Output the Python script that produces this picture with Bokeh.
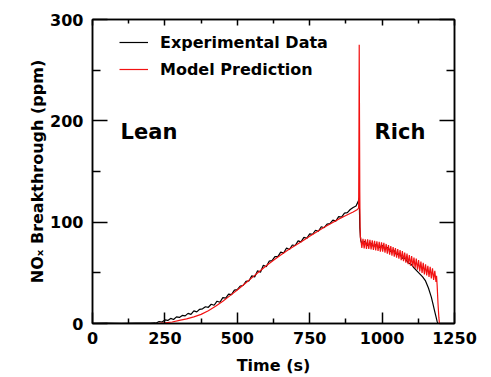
from bokeh.plotting import figure
from bokeh.models import Range1d, LinearAxis, FixedTicker, Label, Legend, LegendItem
from bokeh.embed import file_html
from bokeh.resources import INLINE

# ---------------- data ----------------
exp_time = [0, 50, 100, 150, 200, 215,
            220, 230, 240, 250, 260, 270, 280, 290, 300, 310, 320, 330, 340, 350,
            360, 370, 380, 390, 400, 410, 420, 430, 440, 450, 460, 470, 480, 490,
            500, 510, 520, 530, 540, 550, 560, 570, 580, 590, 600, 610, 620, 630,
            640, 650, 660, 670, 680, 690, 700, 710, 720, 730, 740, 750, 760, 770,
            780, 790, 800, 810, 820, 830, 840, 850, 860, 870, 880, 890, 900, 910,
            920, 921, 923,
            926, 930, 940, 950, 960, 970, 980, 990, 1000, 1010, 1020, 1030, 1040,
            1050, 1060, 1070, 1080, 1090, 1100, 1110, 1120, 1130, 1140, 1150, 1160,
            1170, 1175, 1180, 1185, 1190, 1193, 1200, 1250]
exp_nox = [0.2, 0.4, 0.1, 0.5, 0.3, 0.6,
           0.5, 2.0, 1.5, 3.5, 3.0, 5.0, 4.0, 6.5, 6.0, 8.0, 7.5, 10.0, 9.0, 12.5,
           11.5, 14.0, 14.5, 16.5, 16.0, 19.0, 18.0, 22.0, 21.0, 25.5, 25.0, 29.0, 28.5, 33.0,
           33.5, 37.0, 37.5, 41.5, 42.0, 47.0, 46.0, 52.0, 50.5, 57.5, 56.0, 61.5, 62.0, 66.0,
           66.0, 70.5, 69.5, 74.5, 73.0, 77.5, 77.0, 81.5, 80.5, 85.0, 84.0, 88.5, 88.0, 92.0,
           91.0, 95.5, 94.5, 98.0, 98.5, 102.0, 101.0, 105.5, 105.0, 109.0, 109.5, 112.5, 114.5, 116.0,
           122.0, 124.0, 95.0,
           82.0, 79.0, 81.0, 77.0, 79.5, 76.0, 78.0, 75.0, 77.0, 73.5, 75.0, 71.0, 72.5,
           68.0, 69.0, 64.5, 64.0, 60.0, 58.5, 55.0, 52.0, 49.0, 46.0, 42.0, 35.0,
           26.0, 20.0, 14.0, 8.0, 2.0, 0.0, 0.0, 0.0]

model_time = [0, 100, 200, 230, 250, 275, 300, 325, 350, 375, 400, 425, 450, 475,
              500, 525, 550, 575, 600, 625, 650, 675, 700, 725, 750, 775, 800, 825,
              850, 875, 900, 915, 919, 920, 921, 922, 923, 924, 925,
              926, 930, 934, 938, 942, 946, 950, 954, 958, 962, 966, 970, 974, 978,
              982, 986, 990, 994, 998, 1002, 1006, 1010, 1014, 1018, 1022, 1026, 1030,
              1034, 1038, 1042, 1046, 1050, 1054, 1058, 1062, 1066, 1070, 1074, 1078,
              1082, 1086, 1090, 1094, 1098, 1102, 1106, 1110, 1114, 1118, 1122, 1126,
              1130, 1134, 1138, 1142, 1146, 1150, 1154, 1158, 1162, 1166, 1170, 1174,
              1178, 1182, 1186, 1188, 1190, 1193, 1196, 1198, 1250]
model_nox = [0.0, 0.0, 0.0, 0.2, 0.6, 1.5, 3.0, 4.5, 6.5, 9.0, 12.5, 17.0, 22.0, 27.5,
             33.0, 39.0, 45.0, 51.0, 57.0, 62.5, 67.5, 72.5, 77.0, 81.5, 86.0, 90.5, 95.0, 99.0,
             103.0, 106.5, 110.0, 112.5, 114.0, 180.0, 275.0, 200.0, 130.0, 95.0, 85.0,
             84.5, 74.5, 83.5, 74.0, 83.0, 73.5, 83.0, 73.5, 82.5, 73.0, 82.0, 72.5, 81.5, 72.0,
             81.0, 71.5, 80.5, 71.0, 80.0, 71.0, 79.5, 70.0, 78.5, 69.0, 77.5, 68.0, 76.5,
             67.0, 75.5, 66.0, 74.5, 65.0, 73.5, 64.0, 72.5, 62.5, 71.5, 61.5, 70.0,
             60.0, 69.0, 58.5, 67.5, 57.0, 66.5, 56.0, 65.0, 54.5, 64.0, 53.0, 62.5,
             51.5, 61.0, 50.0, 60.0, 48.5, 58.5, 47.5, 57.0, 46.0, 56.0, 44.5, 54.5,
             43.0, 52.0, 41.0, 47.0, 38.0, 20.0, 6.0, 0.0, 0.0]

x_major = [0, 250, 500, 750, 1000, 1250]
x_minor = [125, 375, 625, 875, 1125]
y_major = [0, 100, 200, 300]
y_minor = [50, 150, 250]

FONT = "DejaVu Sans"

p = figure(width=491, height=377, output_backend="svg", toolbar_location=None,
           x_range=Range1d(0, 1250), y_range=Range1d(0, 300),
           min_border_left=92, min_border_right=37, min_border_top=19, min_border_bottom=51,
           x_axis_location=None, y_axis_location=None)
p.xgrid.visible = False
p.ygrid.visible = False
p.outline_line_color = "black"
p.outline_line_width = 1.5
p.background_fill_color = "white"
p.border_fill_color = "white"

def style_axis(ax, ticks, minor, tin, tmin, labels=True):
    ax.ticker = FixedTicker(ticks=ticks, minor_ticks=minor)
    ax.axis_line_color = "black"
    ax.axis_line_width = 1.5
    ax.major_tick_line_color = "black"
    ax.major_tick_line_width = 1.5
    ax.minor_tick_line_color = "black"
    ax.minor_tick_line_width = 1.5
    ax.major_tick_in = tin
    ax.major_tick_out = 0
    ax.minor_tick_in = tmin
    ax.minor_tick_out = 0
    if labels:
        ax.major_label_text_font = FONT
        ax.major_label_text_font_style = "bold"
        ax.major_label_text_font_size = "16px"
        ax.major_label_text_color = "black"
        ax.axis_label_text_font = FONT
        ax.axis_label_text_font_style = "bold"
        ax.axis_label_text_font_size = "16px"
        ax.axis_label_text_color = "black"
    else:
        ax.major_label_text_font_size = "1px"
        ax.major_label_text_color = None
        ax.major_label_standoff = 0

xb = LinearAxis(axis_label="Time (s)")
style_axis(xb, x_major, x_minor, 11, 5)
xb.major_label_standoff = 8
xb.axis_label_standoff = 9
p.add_layout(xb, "below")

yl = LinearAxis(axis_label="NO\u2093 Breakthrough (ppm)")
style_axis(yl, y_major, y_minor, 15, 8)
yl.major_label_standoff = 9
yl.axis_label_standoff = 0
p.add_layout(yl, "left")

xt = LinearAxis()
style_axis(xt, x_major, x_minor, 6, 4, labels=False)
p.add_layout(xt, "above")

yr = LinearAxis()
style_axis(yr, y_major, y_minor, 15, 8, labels=False)
p.add_layout(yr, "right")

r_exp = p.line(exp_time, exp_nox, line_color="black", line_width=1.2)
r_mod = p.line(model_time, model_nox, line_color="#f21212", line_width=1.2)

legend = Legend(items=[LegendItem(label="Experimental Data", renderers=[r_exp]),
                       LegendItem(label="Model Prediction", renderers=[r_mod])],
                location=(27, 244), border_line_color=None, background_fill_alpha=0,
                padding=0, margin=0, spacing=7, glyph_width=29, glyph_height=20,
                label_height=20, label_standoff=12,
                label_text_font=FONT, label_text_font_style="bold",
                label_text_font_size="16px", label_text_color="black")
p.add_layout(legend)

for txt, xv in (("Lean", 97), ("Rich", 974)):
    p.add_layout(Label(x=xv, y=188.5, text=txt, text_font=FONT, text_font_style="bold",
                       text_font_size="21px", text_color="black", text_baseline="middle"))

open("out.html", "w").write(file_html(p, INLINE))
